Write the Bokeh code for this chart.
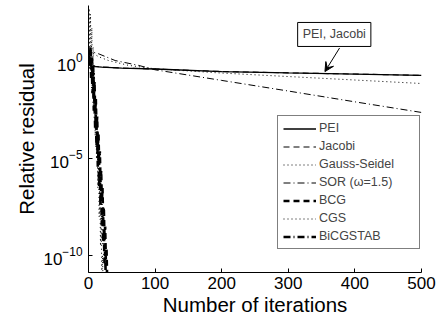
import numpy as np
from bokeh.plotting import figure
from bokeh.models import (Range1d, FixedTicker, Label, Arrow, VeeHead, Legend)
from bokeh.embed import file_html
from bokeh.resources import INLINE

# ---- data (log10 of relative residual) ----
pei_iter = [0, 2, 5, 10, 20, 50, 100, 200, 300, 400, 500]
pei_log = [0.05, -0.15, -0.2, -0.22, -0.24, -0.29, -0.34, -0.47, -0.54, -0.60, -0.67]

jac_iter = [0, 2, 5, 10, 20, 50, 100, 200, 300, 400, 500]
jac_log = [0.3, 0.1, -0.1, -0.2, -0.24, -0.29, -0.34, -0.47, -0.54, -0.60, -0.67]

gs_iter = [0, 3, 8, 15, 30, 60, 100, 200, 300, 400, 500]
gs_log = [0.4, 0.6, 0.45, 0.3, 0.1, -0.15, -0.33, -0.55, -0.73, -0.91, -1.09]

sor_iter = [0, 5, 15, 40, 75, 100, 200, 300, 400, 500]
sor_log = [0.2, 0.55, 0.45, 0.1, -0.15, -0.38, -0.93, -1.48, -2.04, -2.59]

bcg_log = [0, 0.6, -0.2, 0.8, -0.3, 0.3, -1.0, -0.2, -1.8, -1.0, -2.6, -1.9, -3.5, -2.8,
           -4.4, -3.7, -5.3, -4.6, -6.2, -5.6, -7.2, -6.5, -8.2, -7.5, -9.2, -8.5,
           -10.2, -9.6, -11.2]
cgs_log = [0, 2.8, 0.5, 2.5, -0.5, 1.8, -1.5, 0.8, -2.5, -0.5, -3.8, -2.0, -5.0, -3.5,
           -6.5, -5.0, -8.0, -6.5, -9.5, -8.2, -11.0, -10.0, -11.5]
bicg_log = [0, 0.5, -0.3, 0.4, -0.8, -0.2, -1.6, -0.9, -2.5, -1.8, -3.4, -2.7, -4.4,
            -3.6, -5.4, -4.6, -6.4, -5.6, -7.4, -6.6, -8.4, -7.6, -9.4, -8.6, -10.4,
            -9.8, -11.3]

x_ticks = [0, 100, 200, 300, 400, 500]
y_ticks = [1e-10, 1e-5, 1e0]

FONT = "Liberation Sans"

p = figure(width=441, height=320, y_axis_type="log", output_backend="svg",
           toolbar_location=None, min_border_left=88, min_border_right=20,
           min_border_top=5, min_border_bottom=48)
p.x_range = Range1d(0, 500)
p.y_range = Range1d(10 ** -10.88, 10 ** 2.95)
p.outline_line_color = None
p.xgrid.visible = False
p.ygrid.visible = False
p.background_fill_color = "white"
p.border_fill_color = "white"

def tolin(v):
    return [10.0 ** a for a in v]

r_pei = p.line(pei_iter, tolin(pei_log), line_color="black", line_width=1.3)
r_jac = p.line(jac_iter, tolin(jac_log), line_color="black", line_width=1.1, line_dash="6 4")
r_gs = p.line(gs_iter, tolin(gs_log), line_color="black", line_width=1, line_dash="1 3")
r_sor = p.line(sor_iter, tolin(sor_log), line_color="black", line_width=1, line_dash="7 3 1 3")
r_bcg = p.line(list(range(len(bcg_log))), tolin(bcg_log), line_color="black", line_width=2.6, line_dash="6 4")
r_cgs = p.line(list(range(len(cgs_log))), tolin(cgs_log), line_color="black", line_width=1, line_dash="1 3")
r_bicg = p.line(list(range(len(bicg_log))), tolin(bicg_log), line_color="black", line_width=2.6, line_dash="7 3 1 3")

legend = Legend(items=[("PEI", [r_pei]), ("Jacobi", [r_jac]), ("Gauss-Seidel", [r_gs]),
                       ("SOR (\u03c9=1.5)", [r_sor]), ("BCG", [r_bcg]), ("CGS", [r_cgs]),
                       ("BiCGSTAB", [r_bicg])],
                location=(189, 23))
legend.label_text_font = FONT
legend.label_text_font_size = "12.5px"
legend.label_height = 13
legend.label_width = 95
legend.glyph_height = 13
legend.glyph_width = 33
legend.label_standoff = 3
legend.spacing = 4
legend.padding = 5
legend.margin = 0
legend.border_line_color = "black"
legend.border_line_width = 1
legend.background_fill_alpha = 1
p.add_layout(legend, "center")

# axes styling
for ax in (p.xaxis[0], p.yaxis[0]):
    ax.major_tick_in = 4
    ax.major_tick_out = 0
    ax.minor_tick_in = 0
    ax.minor_tick_out = 0
    ax.axis_line_color = "black"
    ax.major_tick_line_color = "black"
    ax.major_label_text_font = FONT
    ax.major_label_text_font_size = "17px"
    ax.major_label_text_color = "black"
    ax.axis_label_text_font = FONT
    ax.axis_label_text_font_size = "20.5px"
    ax.axis_label_text_font_style = "normal"
    ax.axis_label_text_color = "black"

p.xaxis[0].ticker = FixedTicker(ticks=x_ticks)
p.yaxis[0].ticker = FixedTicker(ticks=y_ticks, minor_ticks=[])
p.xaxis[0].axis_label = "Number of iterations"
p.yaxis[0].axis_label = "Relative residual"
p.xaxis[0].major_label_standoff = 4
p.xaxis[0].axis_label_standoff = 1
p.yaxis[0].major_label_standoff = 6
p.yaxis[0].axis_label_standoff = 2

# annotation "PEI, Jacobi" with arrow pointing to PEI line
ann_iter = 355
tip_val = 10 ** (float(np.interp(ann_iter, pei_iter, pei_log)) + 0.1)
p.add_layout(Arrow(end=VeeHead(size=9, fill_color="black", line_color="black"),
                   x_start=377, y_start=10 ** 0.75, x_end=ann_iter, y_end=tip_val,
                   line_color="black", line_width=1))
p.add_layout(Label(x=369, y=10 ** 1.45, text="PEI, Jacobi", text_align="center",
                   text_baseline="middle", text_font=FONT, text_font_size="12.5px",
                   border_line_color="black", border_line_width=1,
                   background_fill_color="white", padding=5))

open("out.html", "w").write(file_html(p, INLINE))
